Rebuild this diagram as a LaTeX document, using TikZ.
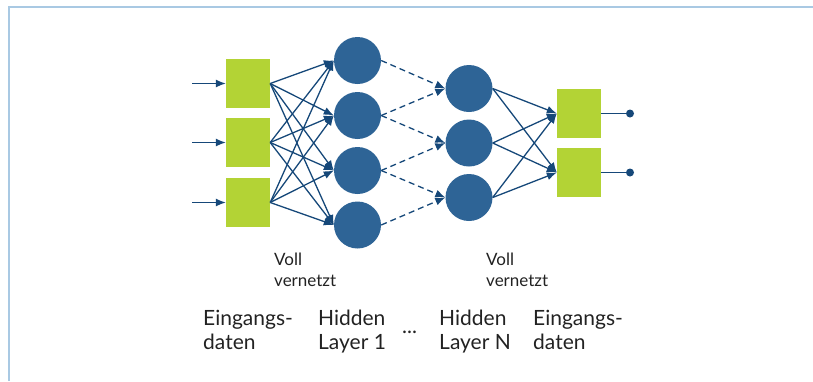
\documentclass[tikz,border=0pt]{standalone}
\usepackage{fontspec}
\setmainfont{Lato}
\usetikzlibrary{arrows.meta}
\definecolor{frameblue}{HTML}{A9C9E3}
\definecolor{cellgreen}{HTML}{B3D335}
\definecolor{neuronblue}{HTML}{2E6496}
\definecolor{linkblue}{HTML}{164879}
\definecolor{txt}{HTML}{222222}
\begin{document}
\begin{tikzpicture}[x=1pt,y=-1pt,
  cell/.style={fill=cellgreen,draw=none,minimum width=44pt,minimum height=49pt,inner sep=0pt},
  neuron/.style={circle,fill=neuronblue,draw=none,minimum size=47pt,inner sep=0pt},
  link/.style={draw=linkblue,line width=1.3pt,-{Latex[length=10pt,width=8pt]}},
  dashlink/.style={link,dash pattern=on 6pt off 4pt},
  outlink/.style={draw=linkblue,line width=1.3pt},
  dot/.style={circle,fill=linkblue,inner sep=0pt,minimum size=8pt},
  smalllabel/.style={anchor=north west,inner sep=0pt,align=left,text=txt,
    font=\fontsize{17pt}{21pt}\selectfont},
  biglabel/.style={anchor=north west,inner sep=0pt,align=left,text=txt,
    font=\fontsize{21pt}{24pt}\selectfont}]
  \useasboundingbox (0,0) rectangle (813,381);
  % open frame: top and left edges
  \draw[frameblue,line width=1.5pt] (9,381) -- (9,7) -- (813,7);

  % input layer
  \node[cell] (i1) at (248,83.5) {};
  \node[cell] (i2) at (248,142.5) {};
  \node[cell] (i3) at (248,202.5) {};
  \coordinate (s1) at (192,83.5);
  \coordinate (s2) at (192,142.5);
  \coordinate (s3) at (192,202.5);

  % hidden layer 1
  \node[neuron] (a1) at (357.5,60.5) {};
  \node[neuron] (a2) at (357.5,115.5) {};
  \node[neuron] (a3) at (357.5,170.5) {};
  \node[neuron] (a4) at (357.5,225) {};

  % hidden layer N
  \node[neuron] (b1) at (469,88.5) {};
  \node[neuron] (b2) at (469,143) {};
  \node[neuron] (b3) at (469,197.5) {};

  % output layer
  \node[cell] (o1) at (579,113.5) {};
  \node[cell] (o2) at (579,172.5) {};
  \node[dot] (d1) at (630,113.5) {};
  \node[dot] (d2) at (630,172.5) {};

  % connections
  \foreach \k in {1,2,3} \draw[link] (s\k) -- (i\k.west);
  \foreach \i in {1,2,3} \foreach \j in {1,2,3,4}
    \draw[link] (i\i.east) -- (a\j.west);
  \draw[dashlink] (a1.east) -- (b1.west);
  \draw[dashlink] (a2.east) -- (b1.west);
  \draw[dashlink] (a2.east) -- (b2.west);
  \draw[dashlink] (a3.east) -- (b2.west);
  \draw[dashlink] (a3.east) -- (b3.west);
  \draw[dashlink] (a4.east) -- (b3.west);
  \foreach \i in {1,2,3} \foreach \j in {1,2}
    \draw[link] (b\i.east) -- (o\j.west);
  \draw[outlink] (o1.east) -- (d1);
  \draw[outlink] (o2.east) -- (d2);

  % labels
  \node[smalllabel] (v1) at (274,253) {Voll\\vernetzt};
  \node[smalllabel] (v2) at (486,253) {Voll\\vernetzt};
  \node[biglabel] (l1) at (203,310) {Eingangs-\\daten};
  \node[biglabel] (l2) at (318,310) {Hidden\\Layer 1};
  \node[biglabel,anchor=base west] (l3) at (402,333) {...};
  \node[biglabel] (l4) at (439,310) {Hidden\\Layer N};
  \node[biglabel] (l5) at (533,310) {Eingangs-\\daten};
\end{tikzpicture}
\end{document}
